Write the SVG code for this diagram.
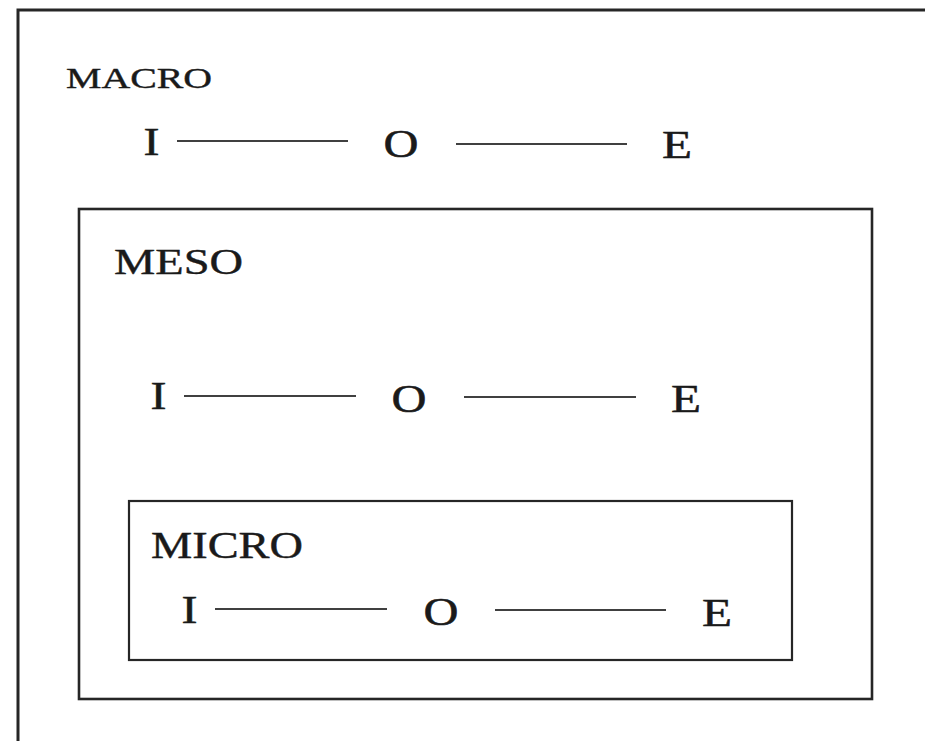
<svg xmlns="http://www.w3.org/2000/svg" width="925" height="741" viewBox="0 0 925 741">
<style>
.t{font-family:"Liberation Serif","Times New Roman",serif;fill:#1a1a1a;stroke:#1a1a1a;stroke-width:0.5}
.lbl{font-family:"Liberation Serif","Times New Roman",serif;fill:#1a1a1a;stroke:#1a1a1a;stroke-width:0.4}
.c{stroke:#404040;stroke-width:1.8;fill:none}
.box{fill:none;stroke:#262626}
</style>
<rect width="925" height="741" fill="#fff"/>
<g id="macro">
<path class="box" d="M18,750 V10 H935" stroke-width="3"/>
<text class="lbl" x="66" y="88" font-size="30" textLength="146" lengthAdjust="spacingAndGlyphs">MACRO</text>
<g id="macro-I"><text class="t" x="143.5" y="155" font-size="39" textLength="16" lengthAdjust="spacingAndGlyphs">I</text></g>
<g id="macro-O"><text class="t" x="383.5" y="157" font-size="39" textLength="35" lengthAdjust="spacingAndGlyphs">O</text></g>
<g id="macro-E"><text class="t" x="662" y="158" font-size="39" textLength="30" lengthAdjust="spacingAndGlyphs">E</text></g>
</g>
<g id="meso">
<rect class="box" x="79" y="209" width="793" height="490" stroke-width="2.6"/>
<text class="lbl" x="114" y="274" font-size="35" textLength="129" lengthAdjust="spacingAndGlyphs">MESO</text>
<g id="meso-I"><text class="t" x="150.5" y="409" font-size="39" textLength="16" lengthAdjust="spacingAndGlyphs">I</text></g>
<g id="meso-O"><text class="t" x="391.5" y="412" font-size="39" textLength="35" lengthAdjust="spacingAndGlyphs">O</text></g>
<g id="meso-E"><text class="t" x="671" y="412" font-size="39" textLength="30" lengthAdjust="spacingAndGlyphs">E</text></g>
</g>
<g id="micro">
<rect class="box" x="129" y="501" width="663" height="159" stroke-width="2.2"/>
<text class="lbl" x="151" y="558" font-size="37" textLength="152" lengthAdjust="spacingAndGlyphs">MICRO</text>
<g id="micro-I"><text class="t" x="181.5" y="623" font-size="39" textLength="16" lengthAdjust="spacingAndGlyphs">I</text></g>
<g id="micro-O"><text class="t" x="423.5" y="625" font-size="39" textLength="35" lengthAdjust="spacingAndGlyphs">O</text></g>
<g id="micro-E"><text class="t" x="702" y="626" font-size="39" textLength="30" lengthAdjust="spacingAndGlyphs">E</text></g>
</g>
<g id="connectors">
<line class="c" x1="177" y1="141" x2="348" y2="141"/>
<line class="c" x1="456" y1="144" x2="627" y2="144"/>
<line class="c" x1="184" y1="396" x2="356" y2="396"/>
<line class="c" x1="464" y1="397" x2="636" y2="397"/>
<line class="c" x1="215" y1="609" x2="387" y2="609"/>
<line class="c" x1="495" y1="610" x2="666" y2="610"/>
</g>
</svg>
